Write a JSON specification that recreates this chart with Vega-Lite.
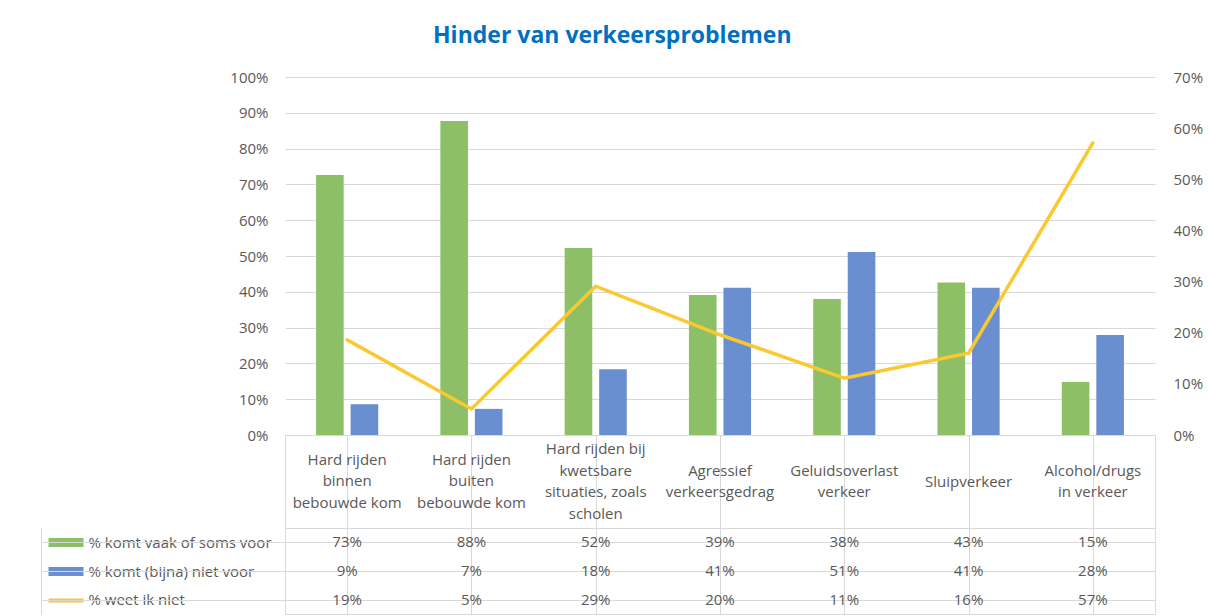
{
  "$schema": "https://vega.github.io/schema/vega-lite/v6.json",
  "padding": {"left": 40, "top": 25, "right": 5, "bottom": 2},
  "background": "white",
  "title": {"text": "Hinder van verkeersproblemen", "font": "Open Sans", "fontSize": 23, "fontWeight": "bold", "color": "#0070C0", "anchor": "middle", "offset": 22, "dx": -9},
  "config": {
    "font": "Open Sans",
    "view": {"stroke": null},
    "axis": {"labelFont": "Open Sans", "labelColor": "#595959", "labelFontSize": 15}
  },
  "bounds": "flush",
  "spacing": 0,
  "datasets": {
    "long": [
      {"cat": "Hard rijden\nbinnen\nbebouwde kom", "serie": "% komt vaak of soms voor", "value": 0.726},
      {"cat": "Hard rijden\nbinnen\nbebouwde kom", "serie": "% komt (bijna) niet voor", "value": 0.086},
      {"cat": "Hard rijden\nbinnen\nbebouwde kom", "serie": "% weet ik niet", "value": 0.186},
      {"cat": "Hard rijden\nbuiten\nbebouwde kom", "serie": "% komt vaak of soms voor", "value": 0.877},
      {"cat": "Hard rijden\nbuiten\nbebouwde kom", "serie": "% komt (bijna) niet voor", "value": 0.073},
      {"cat": "Hard rijden\nbuiten\nbebouwde kom", "serie": "% weet ik niet", "value": 0.051},
      {"cat": "Hard rijden bij\nkwetsbare\nsituaties, zoals\nscholen", "serie": "% komt vaak of soms voor", "value": 0.522},
      {"cat": "Hard rijden bij\nkwetsbare\nsituaties, zoals\nscholen", "serie": "% komt (bijna) niet voor", "value": 0.184},
      {"cat": "Hard rijden bij\nkwetsbare\nsituaties, zoals\nscholen", "serie": "% weet ik niet", "value": 0.291},
      {"cat": "Agressief\nverkeersgedrag", "serie": "% komt vaak of soms voor", "value": 0.391},
      {"cat": "Agressief\nverkeersgedrag", "serie": "% komt (bijna) niet voor", "value": 0.411},
      {"cat": "Agressief\nverkeersgedrag", "serie": "% weet ik niet", "value": 0.196},
      {"cat": "Geluidsoverlast\nverkeer", "serie": "% komt vaak of soms voor", "value": 0.380},
      {"cat": "Geluidsoverlast\nverkeer", "serie": "% komt (bijna) niet voor", "value": 0.511},
      {"cat": "Geluidsoverlast\nverkeer", "serie": "% weet ik niet", "value": 0.111},
      {"cat": "Sluipverkeer", "serie": "% komt vaak of soms voor", "value": 0.426},
      {"cat": "Sluipverkeer", "serie": "% komt (bijna) niet voor", "value": 0.411},
      {"cat": "Sluipverkeer", "serie": "% weet ik niet", "value": 0.160},
      {"cat": "Alcohol/drugs\nin verkeer", "serie": "% komt vaak of soms voor", "value": 0.148},
      {"cat": "Alcohol/drugs\nin verkeer", "serie": "% komt (bijna) niet voor", "value": 0.279},
      {"cat": "Alcohol/drugs\nin verkeer", "serie": "% weet ik niet", "value": 0.571}
    ]
  },
  "vconcat": [
    {
      "width": 870,
      "height": 358,
      "data": {"name": "long"},
      "layer": [
        {
          "transform": [{"filter": "datum.serie !== '% weet ik niet'"}],
          "mark": {"type": "bar"},
          "encoding": {
            "x": {"field": "cat", "type": "nominal", "sort": null, "scale": {"domain": ["Hard rijden\nbinnen\nbebouwde kom", "Hard rijden\nbuiten\nbebouwde kom", "Hard rijden bij\nkwetsbare\nsituaties, zoals\nscholen", "Agressief\nverkeersgedrag", "Geluidsoverlast\nverkeer", "Sluipverkeer", "Alcohol/drugs\nin verkeer"], "paddingInner": 0, "paddingOuter": 0}, "axis": null},
            "xOffset": {"field": "serie", "type": "nominal", "sort": null, "scale": {"paddingInner": 0.2, "paddingOuter": 0.9}},
            "y": {"field": "value", "type": "quantitative", "scale": {"domain": [0, 1]},
              "axis": {"title": null, "format": ".0%", "values": [0, 0.1, 0.2, 0.3, 0.4, 0.5, 0.6, 0.7, 0.8, 0.9, 1], "domain": false, "ticks": false, "tickSize": 0, "labelPadding": 17, "grid": true, "gridColor": "#D9D9D9", "gridWidth": 1}},
            "color": {"field": "serie", "type": "nominal", "legend": null,
              "scale": {"domain": ["% komt vaak of soms voor", "% komt (bijna) niet voor", "% weet ik niet"], "range": ["#8DC066", "#6A8FD0", "#FBC82F"]}}
          }
        },
        {
          "transform": [{"filter": "datum.serie === '% weet ik niet'"}],
          "mark": {"type": "line", "strokeWidth": 3.5, "strokeCap": "round", "color": "#FBC82F"},
          "encoding": {
            "x": {"field": "cat", "type": "nominal", "sort": null},
            "y": {"field": "value", "type": "quantitative", "scale": {"domain": [0, 0.7]},
              "axis": {"orient": "right", "title": null, "format": ".0%", "values": [0, 0.1, 0.2, 0.3, 0.4, 0.5, 0.6, 0.7], "domain": false, "ticks": false, "tickSize": 0, "labelPadding": 18, "grid": false, "labelAlign": "left"}}
          }
        }
      ],
      "resolve": {"scale": {"y": "independent"}}
    },
    {
      "width": 870,
      "height": 93,
      "view": {"stroke": "#D9D9D9"},
      "data": {"name": "long"},
      "transform": [{"filter": "datum.serie === '% weet ik niet'"}],
      "encoding": {
        "x": {"field": "cat", "type": "nominal", "sort": null, "scale": {"domain": ["Hard rijden\nbinnen\nbebouwde kom", "Hard rijden\nbuiten\nbebouwde kom", "Hard rijden bij\nkwetsbare\nsituaties, zoals\nscholen", "Agressief\nverkeersgedrag", "Geluidsoverlast\nverkeer", "Sluipverkeer", "Alcohol/drugs\nin verkeer"], "paddingInner": 0, "paddingOuter": 0},
          "axis": {"title": null, "labels": false, "ticks": false, "domain": false, "grid": true, "bandPosition": 0, "gridColor": "#D9D9D9"}},
        "text": {"field": "cat"}
      },
      "layer": [
        {
          "transform": [{"filter": {"field": "cat", "oneOf": ["Sluipverkeer"]}}],
          "mark": {"type": "text", "lineBreak": "\n", "fontSize": 15, "color": "#595959", "lineHeight": 21.7, "baseline": "middle", "dy": 0}
        },
        {
          "transform": [{"filter": {"field": "cat", "oneOf": ["Agressief\nverkeersgedrag", "Geluidsoverlast\nverkeer", "Alcohol/drugs\nin verkeer"]}}],
          "mark": {"type": "text", "lineBreak": "\n", "fontSize": 15, "color": "#595959", "lineHeight": 21.7, "baseline": "middle", "dy": -10.85}
        },
        {
          "transform": [{"filter": {"field": "cat", "oneOf": ["Hard rijden\nbinnen\nbebouwde kom", "Hard rijden\nbuiten\nbebouwde kom"]}}],
          "mark": {"type": "text", "lineBreak": "\n", "fontSize": 15, "color": "#595959", "lineHeight": 21.7, "baseline": "middle", "dy": -21.7}
        },
        {
          "transform": [{"filter": {"field": "cat", "oneOf": ["Hard rijden bij\nkwetsbare\nsituaties, zoals\nscholen"]}}],
          "mark": {"type": "text", "lineBreak": "\n", "fontSize": 15, "color": "#595959", "lineHeight": 21.7, "baseline": "middle", "dy": -32.55}
        }
      ]
    },
    {
      "width": 870,
      "height": 86,
      "view": {"stroke": "#D9D9D9"},
      "data": {"name": "long"},
      "layer": [
        {
          "mark": {"type": "text", "fontSize": 15, "color": "#595959", "baseline": "middle"},
          "encoding": {
            "x": {"field": "cat", "type": "nominal", "sort": null, "scale": {"domain": ["Hard rijden\nbinnen\nbebouwde kom", "Hard rijden\nbuiten\nbebouwde kom", "Hard rijden bij\nkwetsbare\nsituaties, zoals\nscholen", "Agressief\nverkeersgedrag", "Geluidsoverlast\nverkeer", "Sluipverkeer", "Alcohol/drugs\nin verkeer"], "paddingInner": 0, "paddingOuter": 0},
              "axis": {"title": null, "labels": false, "ticks": false, "domain": false, "grid": true, "bandPosition": 0, "gridColor": "#D9D9D9"}},
            "y": {"field": "serie", "type": "nominal",
              "scale": {"domain": ["% komt vaak of soms voor", "% komt (bijna) niet voor", "% weet ik niet"], "paddingInner": 0, "paddingOuter": 0},
              "axis": {"orient": "left", "title": null, "domain": false, "grid": false, "offset": 202, "tickSize": 35,
                "tickWidth": {"condition": {"test": "datum.value === '% weet ik niet'", "value": 4}, "value": 9},
                "tickColor": {"condition": [{"test": "datum.value === '% komt vaak of soms voor'", "value": "#8DC066"}, {"test": "datum.value === '% komt (bijna) niet voor'", "value": "#6A8FD0"}], "value": "#FBC82F"},
                "tickOpacity": 1,
                "labelAlign": "left", "labelPadding": -40, "labelLimit": 300}},
            "text": {"field": "value", "type": "quantitative", "format": ".0%"}
          }
        },
        {
          "mark": {"type": "text"},
          "encoding": {
            "y": {"field": "serie", "type": "nominal",
              "scale": {"domain": ["% komt vaak of soms voor", "% komt (bijna) niet voor", "% weet ik niet"], "paddingInner": 0, "paddingOuter": 0},
              "axis": {"orient": "left", "title": null, "labels": false, "domain": true, "domainColor": "#D9D9D9", "offset": 244, "tickSize": -244, "tickColor": "#D9D9D9", "bandPosition": 1, "tickExtra": true, "grid": true, "gridColor": "#D9D9D9"}},
            "text": {"value": ""}
          }
        }
      ],
      "resolve": {"axis": {"y": "independent"}}
    }
  ]
}
